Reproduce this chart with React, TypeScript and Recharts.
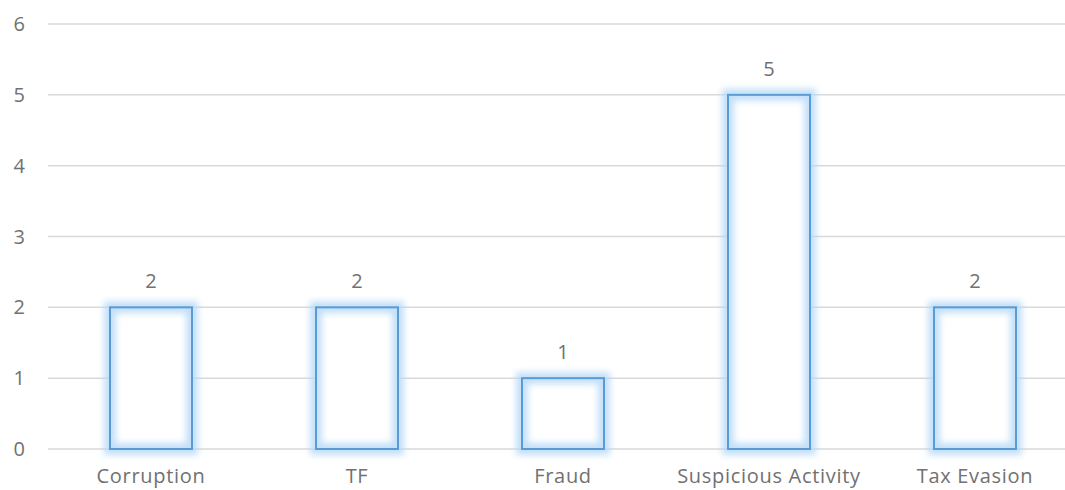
import React from "react";
import { BarChart, Bar, XAxis, YAxis, CartesianGrid, LabelList } from "recharts";

const categories = ["Corruption", "TF", "Fraud", "Suspicious Activity", "Tax Evasion"];
const counts = [2, 2, 1, 5, 2];
const yTicks = [0, 1, 2, 3, 4, 5, 6];

const data = categories.map((name, i) => ({ name, count: counts[i] }));

const FONT = "'Open Sans', 'Noto Sans', sans-serif";
const TEXT = "#717171";

// hollow bar with a soft blue halo around the outline
const GlowBar = (props: any) => {
  const { x, y, width, height } = props;
  if (!height) return null;
  return (
    <g>
      <rect x={x} y={y} width={width} height={height} fill="#ffffff" />
      <rect
        x={x}
        y={y}
        width={width}
        height={height}
        fill="none"
        stroke="#b4d8f8"
        strokeWidth={12}
        filter="url(#barGlow)"
        opacity={0.8}
      />
      <rect x={x} y={y} width={width} height={height} fill="none" stroke="#5b9bd5" strokeWidth={2} />
    </g>
  );
};

export default function App() {
  return (
    <div style={{ position: "absolute", left: 0, top: 0, width: 1065, height: 490, overflow: "hidden", background: "#fff" }}>
      <BarChart
        width={1078}
        height={490}
        data={data}
        margin={{ top: 24, right: 0, bottom: 0, left: 0 }}
        barCategoryGap={0}
      >
        <defs>
          <filter id="barGlow" x="-20%" y="-20%" width="140%" height="140%">
            <feGaussianBlur stdDeviation="3" />
          </filter>
        </defs>
        <CartesianGrid vertical={false} stroke="#d9d9d9" strokeWidth={1.5} />
        <XAxis
          dataKey="name"
          axisLine={false}
          tickLine={false}
          tickSize={0}
          tickMargin={20}
          height={41}
          interval={0}
          tick={{ fill: TEXT, fontSize: 20, fontFamily: FONT, letterSpacing: 0.7 }}
        />
        <YAxis
          domain={[0, 6]}
          ticks={yTicks}
          axisLine={false}
          tickLine={false}
          tickSize={0}
          tickMargin={23}
          width={48}
          tick={{ fill: TEXT, fontSize: 20, fontFamily: FONT }}
        />
        <Bar dataKey="count" barSize={82} shape={GlowBar} isAnimationActive={false}>
          <LabelList
            dataKey="count"
            position="top"
            offset={19}
            fill={TEXT}
            fontSize={20}
            fontFamily={FONT}
          />
        </Bar>
      </BarChart>
    </div>
  );
}
